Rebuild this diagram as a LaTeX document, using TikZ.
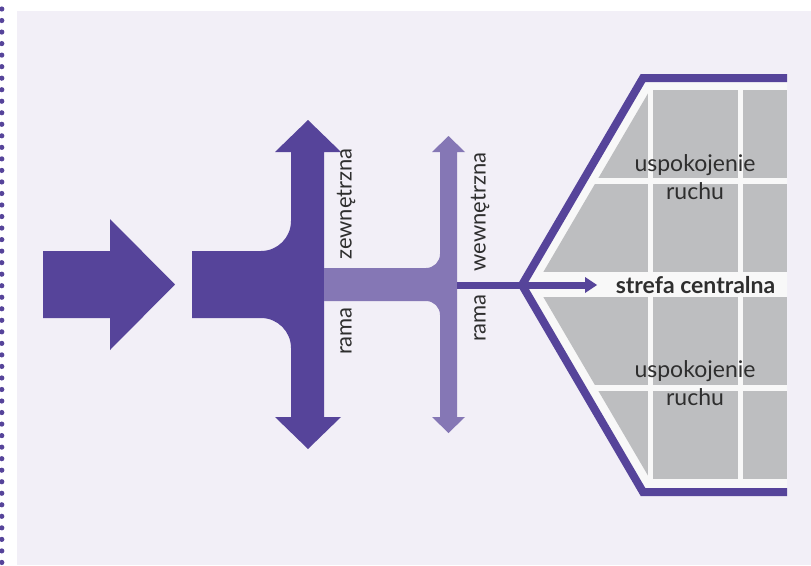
\documentclass[tikz,border=0pt]{standalone}
\usepackage{fontspec}
\setmainfont{Lato}
\definecolor{dp}{HTML}{56449A}
\definecolor{lp}{HTML}{8577B5}
\definecolor{bgc}{HTML}{F2EFF7}
\definecolor{cellgray}{HTML}{BDBEC0}
\definecolor{hexfill}{HTML}{F8F8F8}
\definecolor{txt}{HTML}{2E2E2E}
\begin{document}
\begin{tikzpicture}[x=1pt,y=-1pt,
  lbl/.style={font=\fontsize{23}{27.5}\selectfont, text=txt, inner sep=0pt, align=center},
  rlbl/.style={font=\fontsize{22}{26}\selectfont, text=txt, inner sep=0pt, rotate=90},
  cell/.style={fill=cellgray}]
\useasboundingbox (0,0) rectangle (811,565);
\fill[bgc] (17,11) rectangle (811,565);
\foreach \i in {0,...,48} \fill[dp] (1.8,9+11.53*\i) circle (2.6);
% left arrow
\fill[dp] (43,251) -- (110,251) -- (110,219) -- (175,284.5) -- (110,350) -- (110,318) -- (43,318) -- cycle;
% dark T with double arrow
\fill[dp] (192,251) -- (261,251) .. controls (277.57,251) and (291,237.57) .. (291,221) -- (291,152) -- (275,152) -- (308,120) -- (341,152) -- (324,152) -- (324,417) -- (341,417) -- (308,449) -- (275,417) -- (291,417) -- (291,348) .. controls (291,331.43) and (277.57,318) .. (261,318) -- (192,318) -- cycle;
% light T with double arrow
\fill[lp] (324,268) -- (426,268) .. controls (433.73,268) and (440,261.73) .. (440,254) -- (440,152) -- (432,152) -- (448.5,136) -- (465,152) -- (457,152) -- (457,417) -- (465,417) -- (448.5,433) -- (432,417) -- (440,417) -- (440,315) .. controls (440,307.27) and (433.73,301) .. (426,301) -- (324,301) -- cycle;
% hexagon zone
\fill[hexfill] (787,78) -- (643,78) -- (522,285) -- (643,492) -- (787,492) -- cycle;
\begin{scope}
\clip (787,90) -- (650,90) -- (536,284.5) -- (650,479) -- (787,479) -- cycle;
\foreach \ya/\yb in {90/178,184/272,297/385,391/479}{
  \fill[cell] (500,\ya) rectangle (648,\yb);
  \fill[cell] (653,\ya) rectangle (738,\yb);
  \fill[cell] (743,\ya) rectangle (787,\yb);
}
\end{scope}
\coordinate (apex) at (522,285);
\coordinate (lstart) at (457,285);
\coordinate (atip) at (597,285);
\draw[dp, line width=8, line join=miter] (787,78) -- (643,78) -- (apex) -- (643,492) -- (787,492);
\draw[dp, line width=7] (lstart) -- (apex) -- (588,285);
\fill[dp] (585,277) -- (atip) -- (585,293) -- cycle;
% labels
\node[lbl] (u1) at (695,177) {uspokojenie\\ruchu};
\node[lbl] (u2) at (695,383) {uspokojenie\\ruchu};
\node[lbl, font=\fontsize{23}{27}\selectfont\bfseries] (sc) at (695.5,285) {strefa centralna};
\node[rlbl] (zew) at (346,204) {zewnętrzna};
\node[rlbl] (r1) at (346,331) {rama};
\node[rlbl] (wew) at (480,212) {wewnętrzna};
\node[rlbl] (r2) at (480,318) {rama};
\end{tikzpicture}
\end{document}
